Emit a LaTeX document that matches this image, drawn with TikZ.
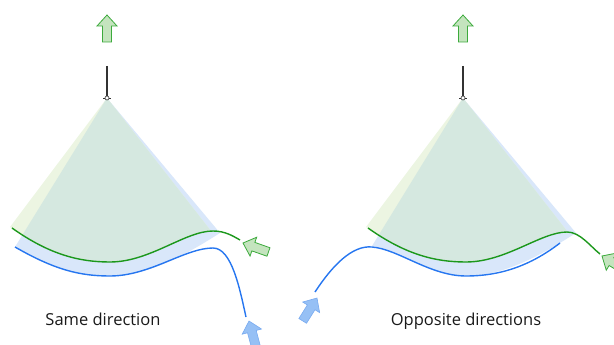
\documentclass[tikz,border=0pt]{standalone}
\usepackage{fontspec}
\setmainfont{Open Sans}
\definecolor{gonly}{RGB}{236,245,226}
\definecolor{bonly}{RGB}{217,231,250}
\definecolor{tealov}{RGB}{213,232,224}
\definecolor{gline}{RGB}{28,152,28}
\definecolor{bline}{RGB}{38,118,240}
\definecolor{garrfill}{RGB}{196,228,190}
\definecolor{garrdraw}{RGB}{60,170,60}
\definecolor{barrfill}{RGB}{150,192,245}
\definecolor{barrdraw}{RGB}{120,170,240}
\tikzset{
  gcurve/.style={draw=gline, line width=1.4pt},
  bcurve/.style={draw=bline, line width=1.4pt},
  garrow/.style={fill=garrfill, draw=garrdraw, line width=0.8pt, line join=miter},
  barrow/.style={fill=barrfill, draw=barrdraw, line width=0.6pt, line join=miter},
  stem/.style={draw=black!80, line width=1.3pt},
  pivotdot/.style={circle, draw=black!80, fill=white, line width=0.6pt, inner sep=0pt, minimum size=4pt},
  caption/.style={font=\fontsize{16.5}{20}\selectfont, anchor=base, text=black!90},
}
\newcommand\blockarr[4]{%
  \begin{scope}[shift={(#1,#2)}, rotate=#3]
    \path[#4] (0pt,0pt) -- (-11pt,10pt) -- (-11pt,4.5pt) -- (-27pt,4.5pt) -- (-27pt,-4.5pt) -- (-11pt,-4.5pt) -- (-11pt,-10pt) -- cycle;
  \end{scope}}
\newcommand\bluefanL{(107,98) -- (15,247) .. controls (55,270) and (80,276) .. (110,276) .. controls (150,276) and (190,252) .. (220,233) -- cycle}
\newcommand\greenfanL{(107,98) -- (10,227) .. controls (50,255) and (80,262) .. (110,262) .. controls (150,262) and (185,231) .. (211,231) -- cycle}
\newcommand\bluefanR{(463,98) -- (372,246) .. controls (398,249) and (430,276) .. (466,276) .. controls (506,276) and (546,252) .. (576,233) -- cycle}
\newcommand\greenfanR{(463,98) -- (366,227) .. controls (406,255) and (436,262) .. (466,262) .. controls (506,262) and (541,231) .. (567,231) -- cycle}
\begin{document}
\begin{tikzpicture}[x=1pt,y=-1pt]
\useasboundingbox (0,0) rectangle (614,345);
% ---------- fans ----------
\fill[bonly] \bluefanL;
\fill[gonly] \greenfanL;
\begin{scope}
  \clip \bluefanL;
  \fill[tealov] \greenfanL;
\end{scope}
\fill[bonly] \bluefanR;
\fill[gonly] \greenfanR;
\begin{scope}
  \clip \bluefanR;
  \fill[tealov] \greenfanR;
\end{scope}
% curves left
\draw[bcurve] (15,247) .. controls (55,270) and (80,276) .. (110,276) .. controls (150,276) and (185,248) .. (213,248) .. controls (232,248) and (240,290) .. (246,317);
\draw[gcurve] (12,228) .. controls (50,255) and (80,262) .. (110,262) .. controls (150,262) and (185,231) .. (213,231) .. controls (225,231) and (233,236) .. (240,240);
% curves right
\draw[bcurve] (560,243) .. controls (530,266) and (500,276) .. (466,276) .. controls (430,276) and (398,249) .. (372,247) .. controls (352,245) and (332,266) .. (315,292);
\draw[gcurve] (368,228) .. controls (406,255) and (436,262) .. (466,262) .. controls (506,262) and (541,232) .. (567,232) .. controls (580,232) and (590,246) .. (600,254);
% stems and pivots
\coordinate (t1) at (107,66);
\node[pivotdot] (p1) at (107,98) {};
\draw[stem] (t1) -- (p1);
\draw[black!80, line width=0.6pt] (p1.west) -- ++(-2,0) (p1.east) -- ++(2,0);
\coordinate (t2) at (463,66);
\node[pivotdot] (p2) at (463,98) {};
\draw[stem] (t2) -- (p2);
\draw[black!80, line width=0.6pt] (p2.west) -- ++(-2,0) (p2.east) -- ++(2,0);
% arrows
\blockarr{107}{15}{90}{garrow}
\blockarr{463}{15}{90}{garrow}
\blockarr{243}{243}{160.6}{garrow}
\blockarr{602}{256}{149}{garrow}
\blockarr{249}{321}{105}{barrow}
\blockarr{317}{298}{58}{barrow}
% captions
\node[caption] (c1) at (103,325) {Same direction};
\node[caption] (c2) at (466,325) {Opposite directions};
\end{tikzpicture}
\end{document}
